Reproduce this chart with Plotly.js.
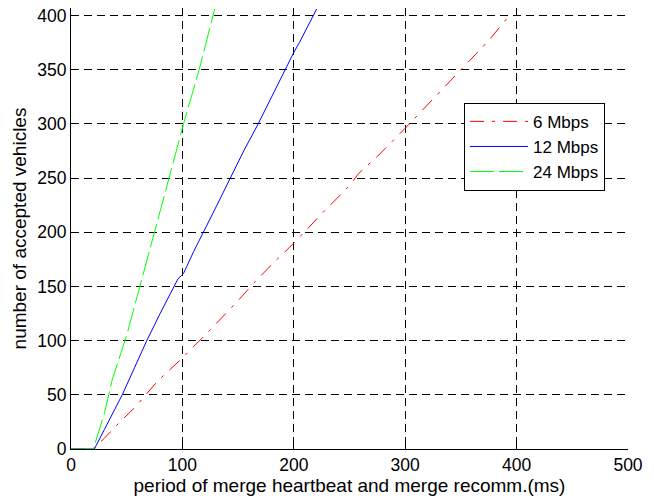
<!DOCTYPE html>
<html>
<head>
<meta charset="utf-8">
<script src="https://cdn.plot.ly/plotly-3.0.1.min.js"></script>
<style>html,body{margin:0;padding:0;background:#fff;}#chart{width:654px;height:498px;}</style>
</head>
<body>
<div id="chart"></div>
<script>
// 6 Mbps
const x6 = [0, 20, 30, 43, 57, 67, 78, 100, 125, 150, 164, 180, 200, 225, 250, 258, 262, 275, 300, 325, 350, 375, 395];
const y6 = [0, 0, 10, 24, 38, 50, 63, 84, 110, 137, 153, 170, 190, 217, 243, 254, 258, 270, 296, 323, 350, 377, 402];
// 12 Mbps
const x12 = [0, 20, 21, 30, 46, 57, 68, 80, 93, 96, 99, 101, 110, 119, 131, 143, 155, 168, 180, 192, 200, 205, 210, 220.5];
const y12 = [0, 0, 0, 18, 50, 75, 100, 125, 150, 157, 160, 162, 182, 200, 225, 250, 275, 300, 325, 350, 366, 375, 385, 406];
// 24 Mbps
const x24 = [0, 20, 30, 37, 50, 62, 75, 88, 101, 115, 129];
const y24 = [0, 0, 33, 64, 105, 150, 200, 250, 300, 350, 406];

const names = ['6 Mbps', '12 Mbps', '24 Mbps'];
const xTicks = [0, 100, 200, 300, 400, 500];
const yTicks = [0, 50, 100, 150, 200, 250, 300, 350, 400];

const traces = [
  {x: x6, y: y6, name: names[0], mode: 'lines', line: {color: '#ff0000', width: 1, dash: '14px,8px,3px,8px'}},
  {x: x12, y: y12, name: names[1], mode: 'lines', line: {color: '#0000ff', width: 1}},
  {x: x24, y: y24, name: names[2], mode: 'lines', line: {color: '#00ff00', width: 1, dash: '24px,5px'}}
];

const fam = 'Liberation Sans, Arial, sans-serif';
const font = {family: fam, size: 17, color: '#000'};
const layout = {
  width: 654, height: 498,
  margin: {l: 71, r: 26, t: 8, b: 49, pad: 0},
  paper_bgcolor: '#fff', plot_bgcolor: '#fff',
  font: font,
  showlegend: true,
  legend: {x: 0.7056, y: 0.785, xanchor: 'left', yanchor: 'top', bgcolor: '#fff',
    bordercolor: '#000', borderwidth: 1, font: {family: fam, size: 17, color: '#000'},
    tracegroupgap: 0, itemwidth: 58},
  xaxis: {
    range: [0, 500], tickvals: xTicks, ticktext: xTicks.map(String),
    showgrid: true, gridcolor: '#000', griddash: '8px,5px', gridwidth: 1,
    zeroline: false, showline: true, linecolor: '#000', linewidth: 1,
    ticks: 'inside', ticklen: 5, tickcolor: '#000', mirror: false,
    tickfont: {family: fam, size: 17.5, color: '#000'},
    title: {text: 'period of merge heartbeat and merge recomm.(ms)', font: {family: fam, size: 19, color: '#000'}, standoff: 3}
  },
  yaxis: {
    range: [0, 407], tickvals: yTicks, ticktext: yTicks.map(String),
    showgrid: true, gridcolor: '#000', griddash: '8px,5px', gridwidth: 1,
    zeroline: false, showline: true, linecolor: '#000', linewidth: 1,
    ticks: 'inside', ticklen: 5, tickcolor: '#000',
    tickfont: {family: fam, size: 17.5, color: '#000'},
    title: {text: 'number of accepted vehicles', font: {family: fam, size: 19, color: '#000'}, standoff: 5}
  }
};

Plotly.newPlot('chart', traces, layout, {displayModeBar: false, staticPlot: true});
</script>
</body>
</html>
